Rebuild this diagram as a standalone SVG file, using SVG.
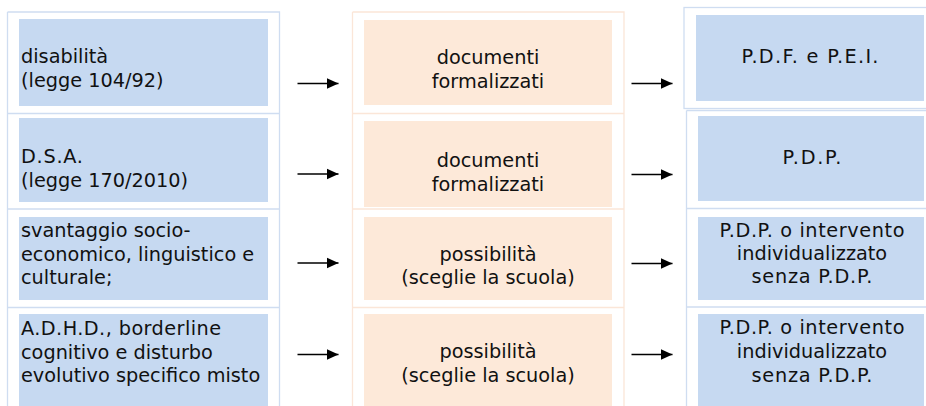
<svg xmlns="http://www.w3.org/2000/svg" width="926" height="406" viewBox="0 0 926 406">
  <defs>
    <marker id="arrowhead" markerUnits="userSpaceOnUse" markerWidth="12" markerHeight="12" viewBox="0 0 12 11" refX="12" refY="5.5" orient="auto">
      <path d="M0,0 L12,5.5 L0,11 Z" fill="#000"/>
    </marker>
  </defs>
  <style>
    .frame-blue { fill: none; stroke: #cfddf1; stroke-width: 1.3; }
    .frame-peach { fill: none; stroke: #fbe6d8; stroke-width: 1.3; }
    .blue { fill: #c6d9f1; }
    .peach { fill: #fde9d9; }
    text { font-family: "DejaVu Sans", Verdana, sans-serif; font-size: 19.3px; fill: #111; }
    .mid { text-anchor: middle; }
    .conn { stroke: #000; stroke-width: 1.4; fill: none; marker-end: url(#arrowhead); }
  </style>
  <rect width="926" height="406" fill="#fff"/>

  <!-- table frames -->
  <g id="frames">
    <path class="frame-blue" d="M7.5,12 H279.5 V406 M7.5,12 V406 M7.5,113.5 H279.5 M7.5,209 H279.5 M7.5,307.5 H279.5"/>
    <path class="frame-peach" d="M352.5,12 H624 V406 M352.5,12 V406 M352.5,113.5 H624 M352.5,209 H624 M352.5,307.5 H624"/>
    <rect class="frame-blue" x="684" y="7.5" width="250" height="101"/>
    <path class="frame-blue" d="M686.5,110.5 H926 M686.5,110.5 V406 M686.5,208.5 H926 M686.5,307 H926"/>
  </g>

  <!-- left column: categories -->
  <g id="cat-disabilita">
    <rect class="blue" x="19" y="19" width="249" height="87"/>
    <text x="21" y="63">disabilità</text>
    <text x="21" y="87">(legge 104/92)</text>
  </g>
  <g id="cat-dsa">
    <rect class="blue" x="19" y="118" width="249" height="84"/>
    <text x="21" y="163" textLength="62" lengthAdjust="spacing">D.S.A.</text>
    <text x="21" y="186.5">(legge 170/2010)</text>
  </g>
  <g id="cat-svantaggio">
    <rect class="blue" x="19" y="217" width="249" height="83"/>
    <text x="21" y="237">svantaggio socio-</text>
    <text x="21" y="260.5">economico, linguistico e</text>
    <text x="21" y="284">culturale;</text>
  </g>
  <g id="cat-adhd">
    <rect class="blue" x="19" y="314" width="249" height="92"/>
    <text x="21" y="335" textLength="200" lengthAdjust="spacing">A.D.H.D., borderline</text>
    <text x="21" y="358.5">cognitivo e disturbo</text>
    <text x="21" y="382">evolutivo specifico misto</text>
  </g>

  <!-- middle column: kind of document -->
  <g id="doc-1">
    <rect class="peach" x="364" y="20" width="248" height="85"/>
    <text class="mid" x="488" y="64">documenti</text>
    <text class="mid" x="488" y="88">formalizzati</text>
  </g>
  <g id="doc-2">
    <rect class="peach" x="364" y="121" width="248" height="86"/>
    <text class="mid" x="488" y="167">documenti</text>
    <text class="mid" x="488" y="190.5">formalizzati</text>
  </g>
  <g id="doc-3">
    <rect class="peach" x="364" y="217" width="248" height="83"/>
    <text class="mid" x="488" y="260.5">possibilità</text>
    <text class="mid" x="488" y="284">(sceglie la scuola)</text>
  </g>
  <g id="doc-4">
    <rect class="peach" x="364" y="314" width="248" height="92"/>
    <text class="mid" x="488" y="358">possibilità</text>
    <text class="mid" x="488" y="382">(sceglie la scuola)</text>
  </g>

  <!-- right column: plans -->
  <g id="plan-1">
    <rect class="blue" x="696" y="15" width="228" height="86"/>
    <text class="mid" x="810" y="62.5" textLength="137" lengthAdjust="spacing">P.D.F. e P.E.I.</text>
  </g>
  <g id="plan-2">
    <rect class="blue" x="698" y="116" width="226" height="85"/>
    <text class="mid" x="812" y="164" textLength="59" lengthAdjust="spacing">P.D.P.</text>
  </g>
  <g id="plan-3">
    <rect class="blue" x="698" y="217" width="226" height="83"/>
    <text class="mid" x="812" y="236.5" textLength="185" lengthAdjust="spacing">P.D.P. o intervento</text>
    <text class="mid" x="812" y="260">individualizzato</text>
    <text class="mid" x="812" y="283" textLength="121" lengthAdjust="spacing">senza P.D.P.</text>
  </g>
  <g id="plan-4">
    <rect class="blue" x="698" y="314" width="226" height="92"/>
    <text class="mid" x="812" y="334" textLength="185" lengthAdjust="spacing">P.D.P. o intervento</text>
    <text class="mid" x="812" y="357.5">individualizzato</text>
    <text class="mid" x="812" y="381.5" textLength="121" lengthAdjust="spacing">senza P.D.P.</text>
  </g>

  <!-- connectors -->
  <g id="connectors">
    <line class="conn" x1="297.5" y1="83.5" x2="338.5" y2="83.5"/>
    <line class="conn" x1="297.5" y1="174" x2="338.5" y2="174"/>
    <line class="conn" x1="297.5" y1="263" x2="338.5" y2="263"/>
    <line class="conn" x1="297.5" y1="354.5" x2="338.5" y2="354.5"/>
    <line class="conn" x1="631.5" y1="83.5" x2="672.5" y2="83.5"/>
    <line class="conn" x1="631.5" y1="174.5" x2="672.5" y2="174.5"/>
    <line class="conn" x1="631.5" y1="263.5" x2="672.5" y2="263.5"/>
    <line class="conn" x1="631.5" y1="354.5" x2="672.5" y2="354.5"/>
  </g>
</svg>
